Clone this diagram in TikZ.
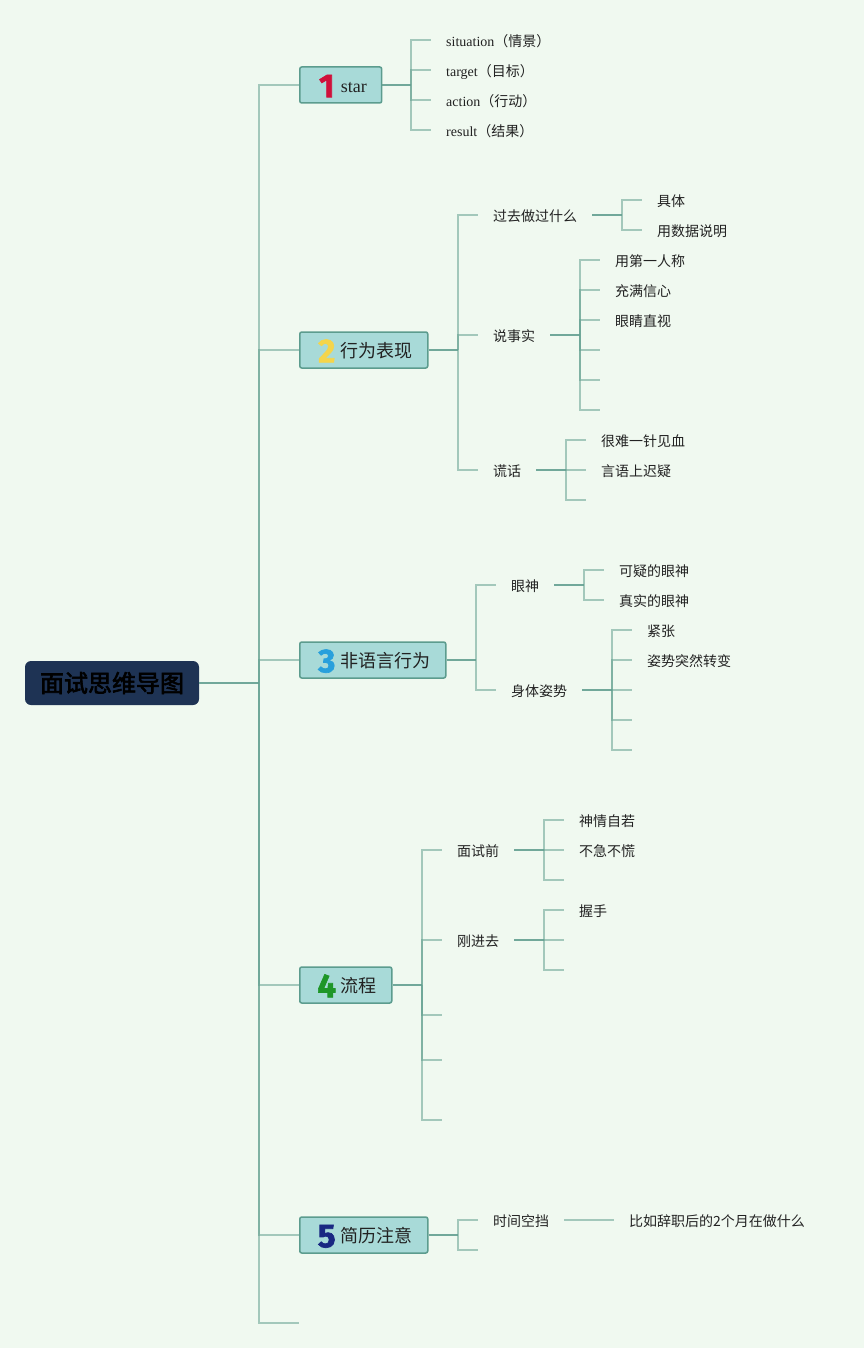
\documentclass[tikz,border=0pt]{standalone}
\usepackage{fontspec}
\setmainfont{Liberation Serif}
\newfontfamily\cjk{Noto Sans CJK SC}[AutoFakeBold=2.5]
\newfontfamily\digitfont{Fira Sans}
\definecolor{bg}{RGB}{240,249,240}
\definecolor{navy}{RGB}{30,51,84}
\definecolor{boxfill}{RGB}{168,218,216}
\definecolor{boxdraw}{RGB}{92,156,142}
\definecolor{linec}{RGB}{100,160,145}
\definecolor{txt}{RGB}{34,34,34}
\definecolor{dA}{RGB}{208,16,58}
\definecolor{dB}{RGB}{245,213,75}
\definecolor{dC}{RGB}{40,160,220}
\definecolor{dD}{RGB}{30,150,40}
\definecolor{dE}{RGB}{25,40,130}
\newcommand\mainlabel[3]{\kern19pt\makebox[16pt]{\raisebox{-4.5pt}{\smash{\digitfont\bfseries\addfontfeature{FakeBold=2}\fontsize{33}{33}\selectfont\color{#1}#2}}}\kern6pt#3\kern15pt}
\tikzset{
  mainbox/.style={draw=boxdraw, fill=boxfill, line width=1.5pt, rounded corners=2pt, anchor=west, inner xsep=0pt, inner ysep=0pt, minimum height=36pt, text height=15.5pt, text depth=0pt, font=\fontsize{18}{18}\selectfont, text=txt},
  lab/.style={anchor=west, inner xsep=15pt, inner ysep=2pt, text height=12.5pt, text depth=0pt, font=\cjk\fontsize{14}{14}\selectfont, text=txt},
  elb/.style={draw=linec, line width=1.5pt, draw opacity=0.55},
  stub/.style={draw=linec, line width=1.5pt, draw opacity=0.9},
  rootbox/.style={fill=navy, rounded corners=6pt, minimum width=174pt, minimum height=44pt, inner sep=0pt, font=\cjk\bfseries\fontsize{24}{24}\selectfont, text=black}
}
\begin{document}
\begin{tikzpicture}[x=1pt,y=-1pt]
\useasboundingbox (0,0) rectangle (864,1348);
\fill[bg] (0,0) rectangle (864,1348);

% root
\node[rootbox] (root) at (112,683) {面试思维导图};
\coordinate (j0) at (259,683);
\coordinate (e0) at (299,1323);

% main topics
\node[mainbox] (b1) at (299,85) {\mainlabel{dA}{1}{star}};
\node[mainbox] (b2) at (299,350) {\mainlabel{dB}{2}{{\cjk 行为表现}}};
\node[mainbox] (b3) at (299,660) {\mainlabel{dC}{3}{{\cjk 非语言行为}}};
\node[mainbox] (b4) at (299,985) {\mainlabel{dD}{4}{{\cjk 流程}}};
\node[mainbox] (b5) at (299,1235) {\mainlabel{dE}{5}{{\cjk 简历注意}}};

\draw[stub] (root.east) -- (j0);
\foreach \b in {b1,b2,b3,b4,b5} \draw[elb] (j0) |- (\b.west);
\draw[elb] (j0) |- (e0);

% branch 1
\coordinate (j1) at (411,85);
\node[lab] (s1) at (431,40) {{\rmfamily situation}（情景）};
\node[lab] (s2) at (431,70) {{\rmfamily target}（目标）};
\node[lab] (s3) at (431,100) {{\rmfamily action}（行动）};
\node[lab] (s4) at (431,130) {{\rmfamily result}（结果）};
\draw[stub] (b1.east) -- (j1);
\foreach \n in {s1,s2,s3,s4} \draw[elb] (j1) |- (\n.west);

% branch 2
\coordinate (j2) at (458,350);
\node[lab] (p1) at (478,215) {过去做过什么};
\node[lab] (p2) at (478,335) {说事实};
\node[lab] (p3) at (478,470) {谎话};
\draw[stub] (b2.east) -- (j2);
\foreach \n in {p1,p2,p3} \draw[elb] (j2) |- (\n.west);

\coordinate (j21) at (622,215);
\node[lab] (p11) at (642,200) {具体};
\node[lab] (p12) at (642,230) {用数据说明};
\draw[stub] (p1.east) -- (j21);
\foreach \n in {p11,p12} \draw[elb] (j21) |- (\n.west);

\coordinate (j22) at (580,335);
\node[lab] (p21) at (600,260) {用第一人称};
\node[lab] (p22) at (600,290) {充满信心};
\node[lab] (p23) at (600,320) {眼睛直视};
\coordinate (p24) at (600,350);
\coordinate (p25) at (600,380);
\coordinate (p26) at (600,410);
\draw[stub] (p2.east) -- (j22);
\foreach \n in {p21,p22,p23} \draw[elb] (j22) |- (\n.west);
\foreach \n in {p24,p25,p26} \draw[elb] (j22) |- (\n);

\coordinate (j23) at (566,470);
\node[lab] (p31) at (586,440) {很难一针见血};
\node[lab] (p32) at (586,470) {言语上迟疑};
\coordinate (p33) at (586,500);
\draw[stub] (p3.east) -- (j23);
\foreach \n in {p31,p32} \draw[elb] (j23) |- (\n.west);
\draw[elb] (j23) |- (p33);

% branch 3
\coordinate (j3) at (476,660);
\node[lab] (q1) at (496,585) {眼神};
\node[lab] (q2) at (496,690) {身体姿势};
\draw[stub] (b3.east) -- (j3);
\foreach \n in {q1,q2} \draw[elb] (j3) |- (\n.west);

\coordinate (j31) at (584,585);
\node[lab] (q11) at (604,570) {可疑的眼神};
\node[lab] (q12) at (604,600) {真实的眼神};
\draw[stub] (q1.east) -- (j31);
\foreach \n in {q11,q12} \draw[elb] (j31) |- (\n.west);

\coordinate (j32) at (612,690);
\node[lab] (q21) at (632,630) {紧张};
\node[lab] (q22) at (632,660) {姿势突然转变};
\coordinate (q23) at (632,690);
\coordinate (q24) at (632,720);
\coordinate (q25) at (632,750);
\draw[stub] (q2.east) -- (j32);
\foreach \n in {q21,q22} \draw[elb] (j32) |- (\n.west);
\foreach \n in {q23,q24,q25} \draw[elb] (j32) |- (\n);

% branch 4
\coordinate (j4) at (422,985);
\node[lab] (r1) at (442,850) {面试前};
\node[lab] (r2) at (442,940) {刚进去};
\coordinate (r3) at (442,1015);
\coordinate (r4) at (442,1060);
\coordinate (r5) at (442,1120);
\draw[stub] (b4.east) -- (j4);
\foreach \n in {r1,r2} \draw[elb] (j4) |- (\n.west);
\foreach \n in {r3,r4,r5} \draw[elb] (j4) |- (\n);

\coordinate (j41) at (544,850);
\node[lab] (r11) at (564,820) {神情自若};
\node[lab] (r12) at (564,850) {不急不慌};
\coordinate (r13) at (564,880);
\draw[stub] (r1.east) -- (j41);
\foreach \n in {r11,r12} \draw[elb] (j41) |- (\n.west);
\draw[elb] (j41) |- (r13);

\coordinate (j42) at (544,940);
\node[lab] (r21) at (564,910) {握手};
\coordinate (r22) at (564,940);
\coordinate (r23) at (564,970);
\draw[stub] (r2.east) -- (j42);
\draw[elb] (j42) |- (r21.west);
\foreach \n in {r22,r23} \draw[elb] (j42) |- (\n);

% branch 5
\coordinate (j5) at (458,1235);
\node[lab] (t1) at (478,1220) {时间空挡};
\coordinate (t2) at (478,1250);
\draw[stub] (b5.east) -- (j5);
\draw[elb] (j5) |- (t1.west);
\draw[elb] (j5) |- (t2);
\node[lab] (t11) at (614,1220) {比如辞职后的2个月在做什么};
\draw[elb] (t1.east) -- (t11.west);
\end{tikzpicture}
\end{document}
